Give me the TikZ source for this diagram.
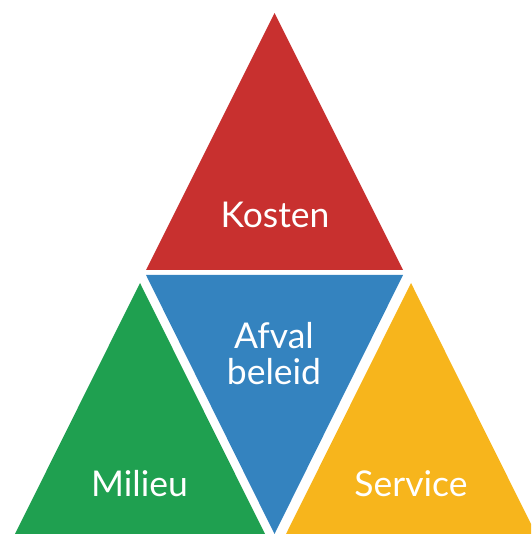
\documentclass[tikz,border=0pt]{standalone}
\usepackage{fontspec}
\setmainfont{Lato}
\definecolor{kosten_red}{HTML}{C8302F}
\definecolor{beleid_blue}{HTML}{3483BF}
\definecolor{milieu_green}{HTML}{1FA050}
\definecolor{service_yellow}{HTML}{F7B51C}
\tikzset{label/.style={text=white, font=\fontsize{35.5}{36}\selectfont, align=center, anchor=base}}
\begin{document}
\begin{tikzpicture}[x=1pt, y=1pt]
	\useasboundingbox (0, 0) rectangle (531, 534);
	\clip (0, 0) rectangle (531, 534);
	% draw kosten
	\fill [kosten_red] (146, 264) -- (403, 264) -- (274.5, 521) -- cycle;
	% draw afval beleid
	\fill [beleid_blue] (146, 259) -- (403, 259) -- (274.5, 0) -- cycle;
	% draw milieu
	\fill [milieu_green] (140, 251) -- (15, 0) -- (265, 0) -- cycle;
	% draw service
	\fill [service_yellow] (411, 251) -- (286, 0) -- (536, 0) -- cycle;
	% labels
	\node [label] (kosten) at (275, 306) {Kosten};
	\node [label] (beleid) at (274, 149) {Afval\\beleid};
	\node [label] (milieu) at (139.5, 37) {Milieu};
	\node [label] (service) at (411, 37) {Service};
\end{tikzpicture}
\end{document}
